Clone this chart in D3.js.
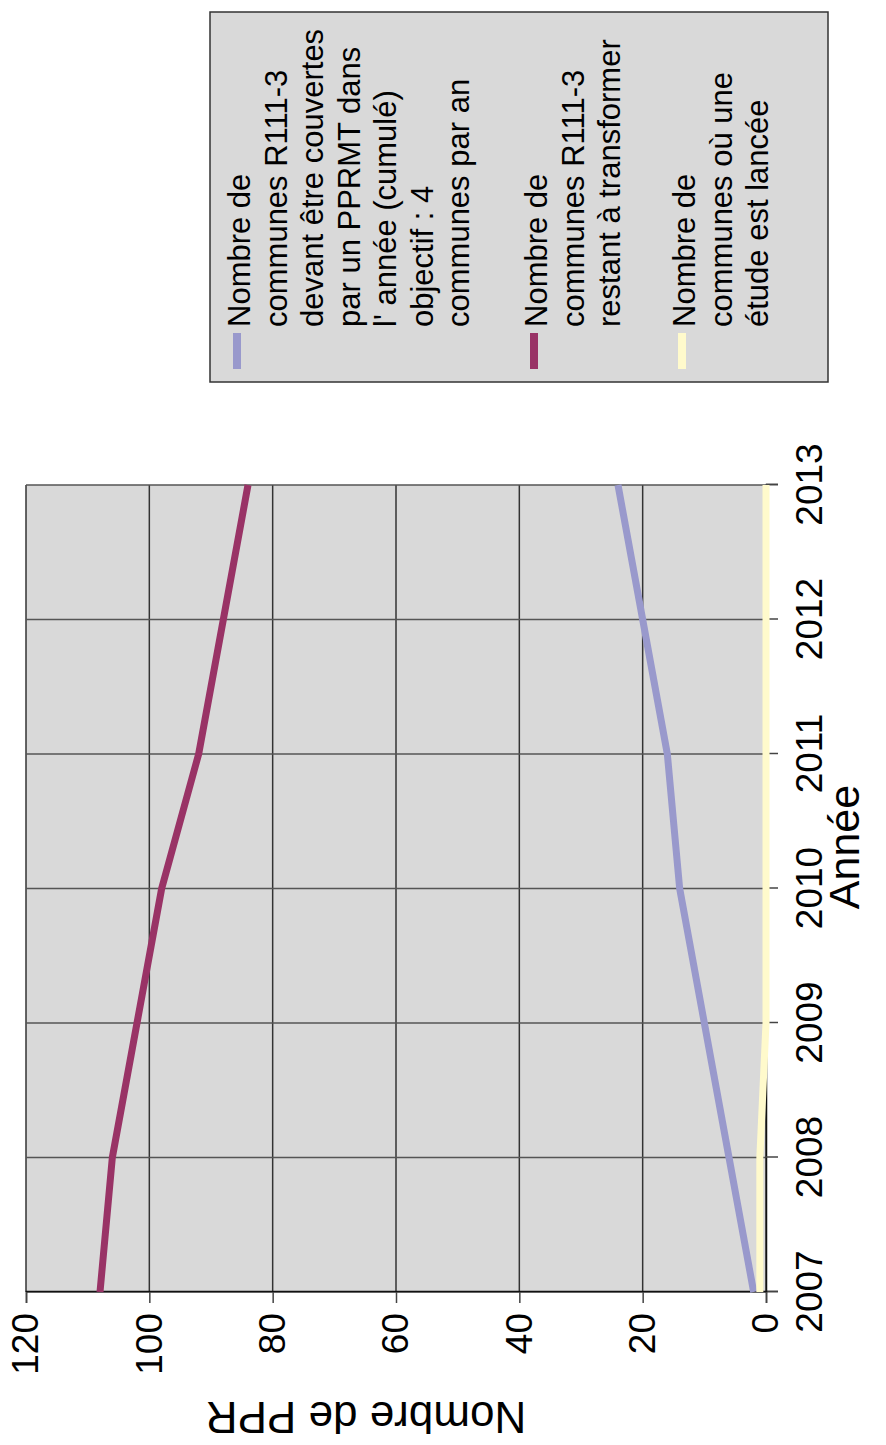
<!DOCTYPE html>
<html>
<head>
<meta charset="utf-8">
<script src="https://cdn.jsdelivr.net/npm/d3@7"></script>
<style>
  html, body { margin: 0; padding: 0; background: #ffffff; }
  svg { display: block; }
  text { font-family: "Liberation Sans", Arial, Helvetica, sans-serif; fill: #000; }
</style>
</head>
<body>
<div id="chart"></div>
<script>
// Années et séries (nombre de communes)
const years = [2007, 2008, 2009, 2010, 2011, 2012, 2013];
const couvertes = [2, 6, 10, 14, 16, 20, 24];
const restant = [108, 106, 102, 98, 92, 88, 84];
const etudes = [1, 1, 0, 0, 0, 0, 0];
const yTicks = [0, 20, 40, 60, 80, 100, 120];

const seriesNames = [
  ["Nombre de", "communes R111-3", "devant être couvertes", "par un PPRMT dans", "l' année (cumulé)", "objectif : 4", "communes par an"],
  ["Nombre de", "communes R111-3", "restant à transformer"],
  ["Nombre de", "communes où une", "étude est lancée"]
];
const seriesColors = ["#9999cc", "#993366", "#fffacc"];
const seriesValues = [couvertes, restant, etudes];

const W = 886, H = 1445;
const svg = d3.select("#chart").append("svg").attr("width", W).attr("height", H);

// The whole figure is laid out landscape and turned a quarter turn.
const g = svg.append("g").attr("transform", `translate(0,${H}) rotate(-90)`);

const plot = { left: 153, right: 960, top: 26, bottom: 766 };
const x = d3.scaleLinear().domain([2007, 2013]).range([plot.left, plot.right]);
const y = d3.scaleLinear().domain([0, 120]).range([plot.bottom, plot.top]);

// plot background
g.append("rect")
  .attr("x", plot.left).attr("y", plot.top)
  .attr("width", plot.right - plot.left).attr("height", plot.bottom - plot.top)
  .attr("fill", "#d9d9d9");

// grid
g.append("g").selectAll("line").data(yTicks).join("line")
  .attr("x1", plot.left).attr("x2", plot.right)
  .attr("y1", d => y(d)).attr("y2", d => y(d))
  .attr("stroke", "#333").attr("stroke-width", 1.5);
g.append("g").selectAll("line").data(years).join("line")
  .attr("x1", d => x(d)).attr("x2", d => x(d))
  .attr("y1", plot.top).attr("y2", plot.bottom)
  .attr("stroke", "#555").attr("stroke-width", 1.5);

// axes
const xAxis = g.append("g").attr("transform", `translate(0,${plot.bottom})`)
  .call(d3.axisBottom(x).tickValues(years).tickFormat(d3.format("d")).tickSize(12).tickPadding(18));
const yAxis = g.append("g").attr("transform", `translate(${plot.left},0)`)
  .call(d3.axisLeft(y).tickValues(yTicks).tickSize(11).tickPadding(10));
[xAxis, yAxis].forEach(a => {
  a.select(".domain").attr("stroke", "#111").attr("stroke-width", 1.5);
  a.selectAll(".tick line").attr("stroke", "#444").attr("stroke-width", 1.5);
  a.selectAll(".tick text").attr("font-size", 37).attr("font-family", '"Liberation Sans", Arial, sans-serif');
});

// series lines
const line = d3.line().x((d, i) => x(years[i])).y(d => y(d));
seriesValues.forEach((vals, k) => {
  g.append("path").datum(vals)
    .attr("d", line)
    .attr("fill", "none")
    .attr("stroke", seriesColors[k])
    .attr("stroke-width", 7)
    .attr("stroke-linejoin", "round");
});

// axis titles
g.append("text")
  .attr("x", 598).attr("y", 859)
  .attr("text-anchor", "middle")
  .attr("font-size", 43)
  .text("Année");
g.append("text")
  .attr("transform", "translate(43,366) rotate(-90)")
  .attr("text-anchor", "middle")
  .attr("font-size", 44)
  .text("Nombre de PPR");

// legend
const legend = g.append("g");
legend.append("rect")
  .attr("x", 1063).attr("y", 210).attr("width", 370).attr("height", 618)
  .attr("fill", "#d9d9d9").attr("stroke", "#333").attr("stroke-width", 1.5);

const firstBaselines = [250, 547, 695];
const lineStep = 36.5;
seriesNames.forEach((lines, k) => {
  const b0 = firstBaselines[k];
  legend.append("line")
    .attr("x1", 1076).attr("x2", 1112)
    .attr("y1", b0 - 13).attr("y2", b0 - 13)
    .attr("stroke", seriesColors[k]).attr("stroke-width", 8);
  const t = legend.append("text").attr("font-size", 31);
  lines.forEach((s, i) => {
    t.append("tspan").attr("x", 1118).attr("y", b0 + i * lineStep).text(s);
  });
});
</script>
</body>
</html>
